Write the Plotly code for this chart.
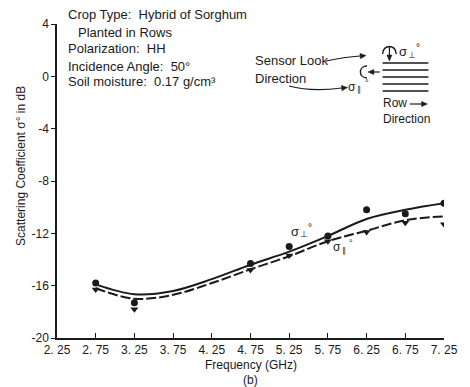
import math
import plotly.graph_objects as go

# ---------------- data ----------------
freq = [2.75, 3.25, 4.75, 5.25, 5.75, 6.25, 6.75, 7.25]
perp_pts = [-15.8, -17.3, -14.3, -13.0, -12.2, -10.2, -10.5, -9.7]     # sigma_perp (circles)
par_pts = [-16.3, -17.8, -14.8, -13.7, -12.6, -11.9, -11.2, -11.3]     # sigma_par (triangles)

curve_f = [2.75, 3.25, 3.75, 4.25, 4.75, 5.25, 5.75, 6.25, 6.75, 7.25]
perp_curve = [-15.9, -16.65, -16.4, -15.5, -14.4, -13.4, -12.2, -10.9, -10.2, -9.7]
par_curve = [-16.2, -17.0, -16.7, -15.8, -14.75, -13.75, -12.6, -11.8, -11.0, -10.7]

xticks = [2.25, 2.75, 3.25, 3.75, 4.25, 4.75, 5.25, 5.75, 6.25, 6.75, 7.25]
xtick_text = ["2. 25", "2. 75", "3. 25", "3. 75", "4. 25", "4. 75", "5. 25", "5. 75", "6. 25", "6. 75", "7. 25"]
yticks = [-20, -16, -12, -8, -4, 0, 4]
ytick_text = ["-20", "-16", "-12", "-8", "-4", "0", "4"]

FONT = "Liberation Sans, Arial, sans-serif"
INK = "#1a1a1a"

# plot area in pixels
L, R, T, B = 57, 454, 24, 338
W, H = 470, 387


def X(px):
    return (px - L) / (R - L)


def Y(py):
    return (B - py) / (B - T)


fig = go.Figure()

fig.add_trace(go.Scatter(x=curve_f, y=perp_curve, mode="lines", line_shape="spline",
                         line=dict(color=INK, width=2), showlegend=False, hoverinfo="skip"))
fig.add_trace(go.Scatter(x=curve_f, y=par_curve, mode="lines", line_shape="spline",
                         line=dict(color=INK, width=2, dash="10px,3px"), showlegend=False, hoverinfo="skip"))
fig.add_trace(go.Scatter(x=freq, y=perp_pts, mode="markers",
                         marker=dict(symbol="circle", size=7, color=INK), showlegend=False))
fig.add_trace(go.Scatter(x=freq, y=par_pts, mode="markers",
                         marker=dict(symbol="triangle-down", size=7, color=INK), showlegend=False))

annotations = []
shapes = []


def txt(px, py, s, size=13, anchor="left", pad=1):
    annotations.append(dict(x=X(px), y=Y(py), xref="paper", yref="paper", text=s,
                            showarrow=False, xanchor=anchor, yanchor="middle", borderpad=pad,
                            font=dict(family=FONT, size=size, color=INK)))


def sigma(px, py, sub, size=13):
    """sigma with a lowered sub-symbol and a raised degree sign"""
    txt(px, py, "σ", size, pad=0)
    txt(px + 9, py + 3, sub, size - 4, pad=0)
    txt(px + 17, py - 4, "°", size - 3, pad=0)


def head(hx, hy, dx, dy, ln=6, hw=2.6):
    """filled arrowhead with tip at (hx, hy) pointing along (dx, dy) in pixel space"""
    n = math.hypot(dx, dy)
    ux, uy = dx / n, dy / n
    bx, by = hx - ux * ln, hy - uy * ln
    px_, py_ = -uy, ux
    p1 = (bx + px_ * hw, by + py_ * hw)
    p2 = (bx - px_ * hw, by - py_ * hw)
    shapes.append(dict(type="path", xref="paper", yref="paper",
                       path=f"M {X(hx)},{Y(hy)} L {X(p1[0])},{Y(p1[1])} L {X(p2[0])},{Y(p2[1])} Z",
                       fillcolor=INK, line=dict(color=INK, width=0.5)))


def seg(x0, y0, x1, y1, w=1.2):
    shapes.append(dict(type="line", xref="paper", yref="paper",
                       x0=X(x0), y0=Y(y0), x1=X(x1), y1=Y(y1),
                       line=dict(color=INK, width=w)))


# info block
txt(66, 15, "Crop Type:  Hybrid of Sorghum", 13)
txt(76, 32, "Planted in Rows", 13)
txt(66, 49, "Polarization:  HH", 13)
txt(66, 66, "Incidence Angle:  50°", 13)
txt(66, 82, "Soil moisture:  0.17 g/cm³", 13)

# diagram texts
txt(258, 61, "Sensor Look", 13)
txt(258, 79, "Direction", 13)
sigma(407, 52, "⊥", 13)
sigma(355, 87, "∥", 12)
txt(389, 103, "Row", 12)
txt(389, 119, "Direction", 12)

# curve labels
sigma(296, 231, "⊥", 13)
sigma(339, 247, "∥", 12)

# axis titles
annotations.append(dict(x=X(20), y=Y(166), xref="paper", yref="paper",
                        text="Scattering Coefficient σ° in dB", textangle=-90,
                        showarrow=False, xanchor="center", yanchor="middle",
                        font=dict(family=FONT, size=12, color=INK)))
txt(256, 365, "Frequency (GHz)", 12, "center")
txt(256, 380, "(b)", 12, "center")

# row lines
for ry in [63, 70, 77, 84, 91]:
    seg(391, ry, 438, ry, 1.4)

# curved arrows from the "Sensor Look Direction" label
shapes.append(dict(type="path", xref="paper", yref="paper",
                   path=f"M {X(333)},{Y(61)} Q {X(352)},{Y(57)} {X(368)},{Y(56)}",
                   line=dict(color=INK, width=1.2)))
head(374, 55.5, 1, -0.1)
shapes.append(dict(type="path", xref="paper", yref="paper",
                   path=f"M {X(295)},{Y(86)} Q {X(318)},{Y(92)} {X(349)},{Y(88)}",
                   line=dict(color=INK, width=1.2)))
head(355, 87.5, 1, -0.1)

# left "C" arc with arrow
shapes.append(dict(type="path", xref="paper", yref="paper",
                   path=f"M {X(375)},{Y(66)} C {X(366)},{Y(66)} {X(366)},{Y(78)} {X(375)},{Y(78)}",
                   line=dict(color=INK, width=1.4)))
seg(388, 72, 381, 72)
head(376, 72, -1, 0)

# top arc with arrow
shapes.append(dict(type="path", xref="paper", yref="paper",
                   path=f"M {X(391)},{Y(54)} C {X(391)},{Y(44)} {X(405)},{Y(44)} {X(405)},{Y(54)}",
                   line=dict(color=INK, width=1.4)))
seg(398, 46, 398, 55)
head(398, 61, 0, 1)

# row direction arrow
seg(419, 104, 431, 104)
head(437, 104, 1, 0)

fig.update_layout(
    width=W, height=H,
    margin=dict(l=L, r=W - R, t=T, b=H - B),
    paper_bgcolor="white", plot_bgcolor="white",
    font=dict(family=FONT, size=12, color=INK),
    annotations=annotations, shapes=shapes,
    xaxis=dict(range=[2.25, 7.25], tickvals=xticks, ticktext=xtick_text,
               ticks="inside", ticklen=5, tickcolor=INK, showline=True, linecolor=INK,
               linewidth=1.5, showgrid=False, zeroline=False,
               tickfont=dict(family=FONT, size=12, color=INK)),
    yaxis=dict(range=[-20, 4], tickvals=yticks, ticktext=ytick_text,
               ticks="outside", ticklen=4, tickcolor=INK, showline=True, linecolor=INK,
               linewidth=1.5, showgrid=False, zeroline=False,
               tickfont=dict(family=FONT, size=12, color=INK)),
)

fig.write_html("out.html")
